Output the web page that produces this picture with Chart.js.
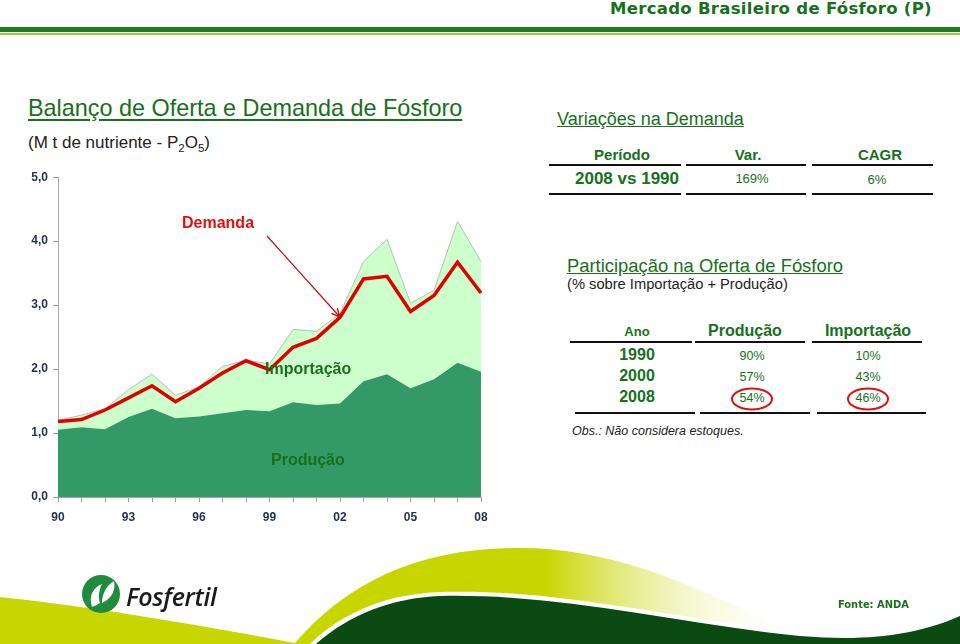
<!DOCTYPE html>
<html>
<head>
<meta charset="utf-8">
<script src="https://cdn.jsdelivr.net/npm/chart.js@4.4.1/dist/chart.umd.min.js"></script>
<style>
  html, body { margin: 0; padding: 0; background: #fff; }
  body { width: 960px; height: 644px; position: relative; overflow: hidden; font-family: "Liberation Sans", Arial, sans-serif; }
  .abs { position: absolute; white-space: nowrap; }
  .green { color: #17701c; }
  .line { position: absolute; height: 0; border-top: 2.5px solid #111; }
  #chartWrap { position: absolute; left: 10px; top: 165px; width: 490px; height: 360px; }
  .cell { position: absolute; text-align: center; white-space: nowrap; }
</style>
</head>
<body>

<!-- header -->
<div class="abs" style="left:610px; top:-1px; font-family:'DejaVu Sans'; font-weight:bold; font-size:16.5px; color:#17701c; letter-spacing:0.3px;">Mercado Brasileiro de Fósforo (P)</div>
<div class="abs" style="left:0; top:27px; width:960px; height:5px; background:#1d7a1d;"></div>
<div class="abs" style="left:0; top:33px; width:960px; height:2px; background:#9acd32;"></div>

<!-- left title -->
<div class="abs green" style="left:28px; top:95px; font-size:23.4px; text-decoration:underline; text-underline-offset:3px;">Balanço de Oferta e Demanda de Fósforo</div>
<div class="abs" style="left:28px; top:133px; font-size:17px; color:#222;">(M t de nutriente - P<sub style="font-size:11.5px;">2</sub>O<sub style="font-size:11.5px;">5</sub>)</div>

<!-- Variações na Demanda -->
<div class="abs green" style="left:557px; top:109px; font-size:18px; text-decoration:underline;">Variações na Demanda</div>
<div class="cell green" style="left:560px; width:124px; top:146px; font-size:15px; font-weight:bold;">Período</div>
<div class="cell green" style="left:686px; width:124px; top:146px; font-size:15px; font-weight:bold;">Var.</div>
<div class="cell green" style="left:818px; width:124px; top:146px; font-size:15px; font-weight:bold;">CAGR</div>
<div class="line" style="left:549px; width:132px; top:164px;"></div>
<div class="line" style="left:686px; width:120px; top:164px;"></div>
<div class="line" style="left:812px; width:121px; top:164px;"></div>
<div class="cell green" style="left:565px; width:124px; top:169px; font-size:17px; font-weight:bold;">2008 vs 1990</div>
<div class="cell green" style="left:690px; width:124px; top:171px; font-size:13px;">169%</div>
<div class="cell green" style="left:815px; width:124px; top:172px; font-size:13px;">6%</div>
<div class="line" style="left:549px; width:132px; top:193px;"></div>
<div class="line" style="left:686px; width:120px; top:193px;"></div>
<div class="line" style="left:812px; width:121px; top:193px;"></div>

<!-- Participação -->
<div class="abs green" style="left:567px; top:255px; font-size:18.4px; text-decoration:underline;">Participação na Oferta de Fósforo</div>
<div class="abs" style="left:567px; top:276px; font-size:14.7px; color:#222;">(% sobre Importação + Produção)</div>
<div class="cell green" style="left:597px; width:80px; top:324px; font-size:13px; font-weight:bold;">Ano</div>
<div class="cell green" style="left:695px; width:100px; top:322px; font-size:16px; font-weight:bold;">Produção</div>
<div class="cell green" style="left:813px; width:110px; top:322px; font-size:16px; font-weight:bold;">Importação</div>
<div class="line" style="left:570px; width:122px; top:341px;"></div>
<div class="line" style="left:695px; width:110px; top:341px;"></div>
<div class="line" style="left:812px; width:110px; top:341px;"></div>
<div id="partRows"></div>
<div class="line" style="left:575px; width:120px; top:412px;"></div>
<div class="line" style="left:700px; width:110px; top:412px;"></div>
<div class="line" style="left:817px; width:109px; top:412px;"></div>
<div class="abs" style="left:572px; top:424px; font-size:12.5px; font-style:italic; color:#222;">Obs.: Não considera estoques.</div>
<svg class="abs" style="left:0; top:0;" width="960" height="644">
  <ellipse cx="752" cy="399" rx="20" ry="10.5" fill="none" stroke="#e01010" stroke-width="2"/>
  <ellipse cx="868" cy="399" rx="20" ry="10.5" fill="none" stroke="#e01010" stroke-width="2"/>
</svg>

<!-- chart -->
<div id="chartWrap"><canvas id="ofertaChart" width="490" height="360"></canvas></div>

<!-- chart annotations -->
<div class="abs" style="left:182px; top:214px; font-size:16px; font-weight:bold; color:#e01010;">Demanda</div>
<div class="abs" style="left:265px; top:360px; font-size:16px; font-weight:bold; color:#17701c;">Importação</div>
<div class="abs" style="left:271px; top:451px; font-size:16px; font-weight:bold; color:#17701c;">Produção</div>
<svg class="abs" style="left:0; top:0;" width="960" height="644">
  <defs>
    <marker id="arr" markerWidth="8" markerHeight="8" refX="7" refY="4" orient="auto" markerUnits="userSpaceOnUse">
      <path d="M0,0 L8,4 L0,8" fill="none" stroke="#c01010" stroke-width="1.4"/>
    </marker>
  </defs>
  <line x1="267" y1="236" x2="339" y2="316" stroke="#c01010" stroke-width="1.2" marker-end="url(#arr)"/>
</svg>

<!-- footer decoration -->
<svg class="abs" style="left:0; top:530px;" width="960" height="114">
  <defs>
    <linearGradient id="fade" x1="0" y1="0" x2="1" y2="0">
      <stop offset="0" stop-color="#c8d600"/>
      <stop offset="0.5" stop-color="#c8d600"/>
      <stop offset="1" stop-color="#ffffff" stop-opacity="0"/>
    </linearGradient>
  </defs>
  <path d="M0,67 C80,75 200,95 300,114 L0,114 Z" fill="#c8d600"/>
  <path d="M294,114 C350,50 420,18 520,18 C620,18 700,60 800,104 L800,114 Z" fill="url(#fade)"/>
  <path d="M310,114 C345,80 390,64 440,62 C560,58 680,90 800,102 C870,108 920,100 960,82 L960,114 Z" fill="#ffffff"/>
  <path d="M316,114 C350,84 392,68 440,66 C560,63 680,94 800,106 C870,112 920,104 960,86 L960,114 Z" fill="#0b4a12"/>
</svg>

<!-- logo -->
<svg class="abs" style="left:80px; top:573px;" width="44" height="44">
  <circle cx="21" cy="21" r="19" fill="#1e8c3c"/>
  <path d="M12,34 C8,22 14,14 22,11 C19,17 18,24 20,30 C17,32 14,33 12,34 Z" fill="#fff"/>
  <path d="M22,30 C22,20 27,12 34,8 C36,18 31,26 22,30 Z" fill="#fff"/>
</svg>
<div class="abs" style="left:126px; top:579px; font-family:'Open Sans'; font-size:25px; font-style:italic; font-weight:600; color:#1a1a1a; letter-spacing:-0.3px;">Fosfertil</div>
<div class="abs" style="left:838px; top:598px; font-family:'DejaVu Sans Condensed','DejaVu Sans'; font-size:11px; font-weight:bold; color:#17701c;">Fonte: ANDA</div>

<script>
const anos = ["90","91","92","93","94","95","96","97","98","99","00","01","02","03","04","05","06","07","08"];
const producao = [1.05, 1.09, 1.06, 1.25, 1.38, 1.23, 1.26, 1.31, 1.36, 1.34, 1.48, 1.44, 1.46, 1.81, 1.92, 1.70, 1.84, 2.10, 1.96];
const importacao = [0.15, 0.19, 0.32, 0.43, 0.54, 0.36, 0.46, 0.73, 0.78, 0.74, 1.14, 1.15, 1.41, 1.87, 2.11, 1.33, 1.39, 2.21, 1.72];
const demanda = [1.18, 1.21, 1.36, 1.55, 1.74, 1.49, 1.70, 1.94, 2.13, 1.99, 2.34, 2.48, 2.81, 3.41, 3.45, 2.90, 3.15, 3.67, 3.19];
const yTicks = [0, 1, 2, 3, 4, 5];

const partAnos = ["1990", "2000", "2008"];
const partProducao = ["90%", "57%", "54%"];
const partImportacao = ["10%", "43%", "46%"];

// table rows for "Participação"
const partRows = document.getElementById("partRows");
partAnos.forEach((ano, i) => {
  const top = 346 + i * 21;
  partRows.insertAdjacentHTML("beforeend",
    `<div class="cell green" style="left:597px;width:80px;top:${top}px;font-size:16px;font-weight:bold;">${ano}</div>` +
    `<div class="cell green" style="left:702px;width:100px;top:${top + 3}px;font-size:12.5px;">${partProducao[i]}</div>` +
    `<div class="cell green" style="left:818px;width:100px;top:${top + 3}px;font-size:12.5px;">${partImportacao[i]}</div>`);
});

const axisFont = { family: "Liberation Sans", size: 12, weight: "bold" };

new Chart(document.getElementById("ofertaChart").getContext("2d"), {
  type: "line",
  data: {
    labels: anos,
    datasets: [
      {
        label: "Produção",
        data: producao,
        stack: "oferta",
        order: 1,
        fill: "origin",
        backgroundColor: "#339966",
        borderColor: "#339966",
        borderWidth: 0,
        pointRadius: 0
      },
      {
        label: "Importação",
        data: importacao,
        stack: "oferta",
        order: 1,
        fill: "-1",
        backgroundColor: "#ccffcc",
        borderColor: "#b4c4b4",
        borderWidth: 1,
        pointRadius: 0
      },
      {
        label: "Demanda",
        data: demanda,
        stack: "demanda",
        order: 0,
        fill: false,
        borderColor: "#e00000",
        borderWidth: 3.5,
        pointRadius: 0,
        tension: 0
      }
    ]
  },
  options: {
    responsive: false,
    animation: false,
    layout: { padding: { top: 8, right: 19, left: 0, bottom: 0 } },
    plugins: {
      legend: { display: false },
      tooltip: { enabled: false },
      filler: { drawTime: "beforeDatasetsDraw" }
    },
    scales: {
      x: {
        offset: false,
        grid: { drawOnChartArea: false, tickLength: 5, color: "#999" },
        border: { color: "#aaa" },
        ticks: {
          autoSkip: false,
          maxRotation: 0,
          padding: 8,
          color: "#1f3050",
          font: axisFont,
          callback: (v, i) => (i % 3 === 0 ? anos[i] : "")
        },
        afterFit: (scale) => { scale.height = 28; }
      },
      y: {
        stacked: true,
        min: 0,
        max: 5,
        grid: { drawOnChartArea: false, tickLength: 5, color: "#999" },
        border: { color: "#aaa" },
        afterBuildTicks: (scale) => { scale.ticks = yTicks.map((v) => ({ value: v })); },
        ticks: {
          padding: 5,
          color: "#1f3050",
          font: axisFont,
          callback: (v) => v.toFixed(1).replace(".", ",")
        },
        afterFit: (scale) => { scale.width = 48; }
      }
    }
  }
});
</script>
</body>
</html>
